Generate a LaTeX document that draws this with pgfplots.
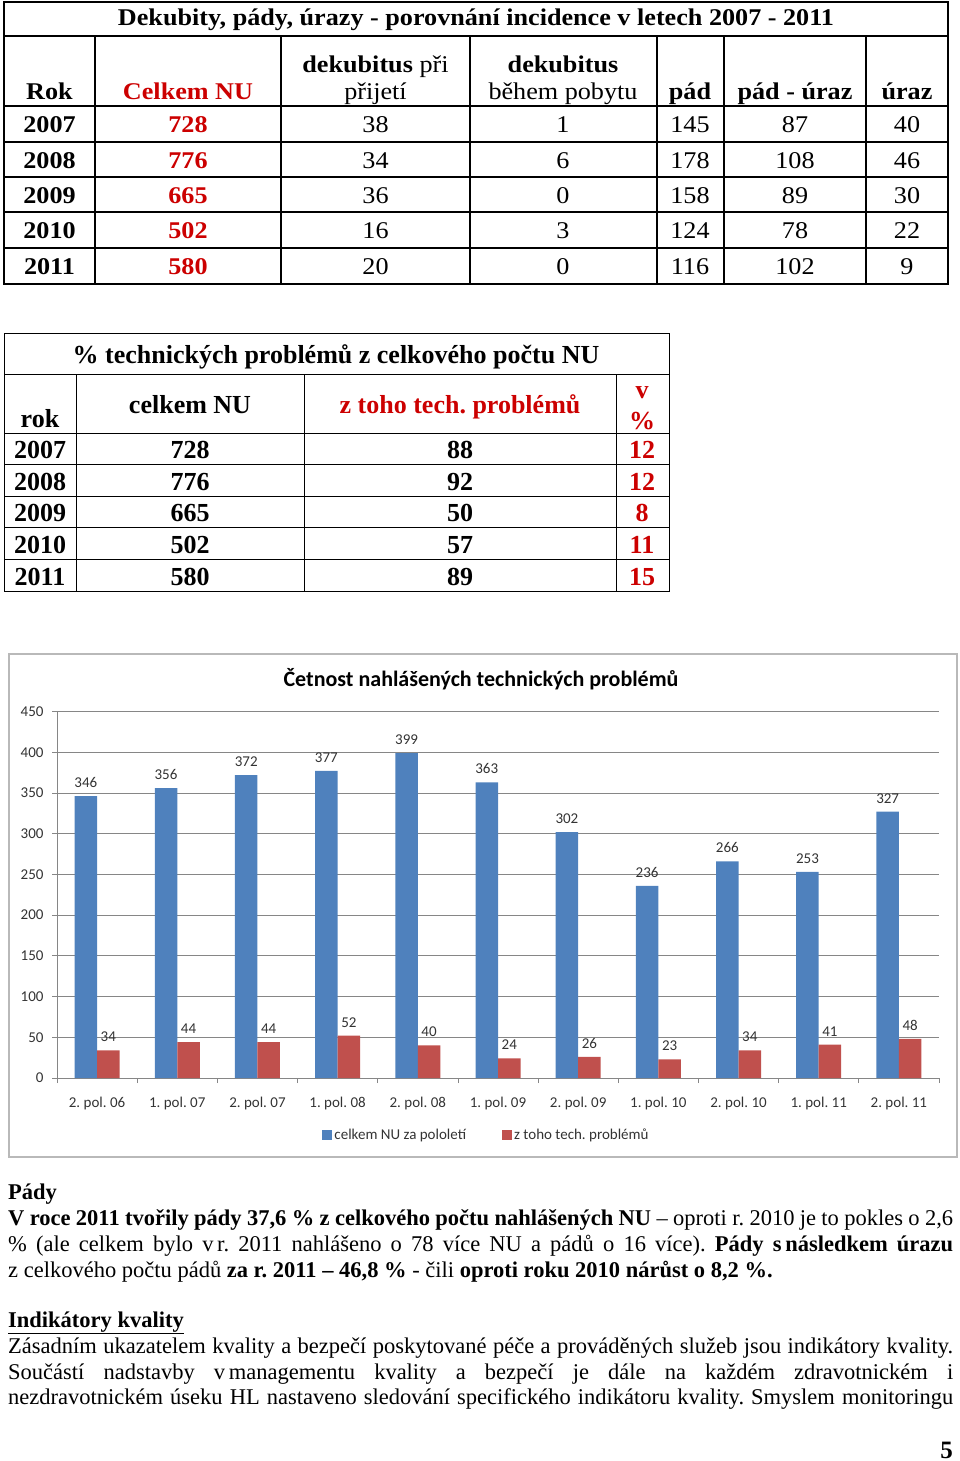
\documentclass[border=0pt]{standalone}
\usepackage{pgfplots}
\pgfplotsset{compat=1.18}
\usepackage{fontspec}
\setmainfont{Liberation Serif}
\newfontfamily\carl{Carlito}
\newfontfamily\wide[FakeStretch=1.09]{Liberation Serif}
\definecolor{barblue}{RGB}{79,129,189}
\definecolor{barred}{RGB}{192,80,77}
\definecolor{nured}{RGB}{204,0,0}
\definecolor{gridgray}{RGB}{134,134,134}
\newcommand\fs[1]{\fontsize{#1}{#1}\selectfont}
\frenchspacing

% semiannual counts: index, all reported events, technical problems
\pgfplotstableread{
idx celkem tech
0   346    34
1   356    44
2   372    44
3   377    52
4   399    40
5   363    24
6   302    26
7   236    23
8   266    34
9   253    41
10  327    48
}\pololeti

\begin{document}
\begin{tikzpicture}[x=1pt,y=1pt]
\path[use as bounding box] (0,0) rectangle (960,-1461);

% ---- table 1
\begin{scope}[y=-1pt]
\draw[line width=1.6pt] (4,2) rectangle (948,284);
\foreach \y in {36,106,142,177,212,248} \draw[line width=1.6pt] (4,\y) -- (948,\y);
\foreach \x in {95,281,470,657,724,866} \draw[line width=1.6pt] (\x,36) -- (\x,284);
\node[font=\wide\fs{24}\bfseries] at (476,20) {Dekubity, pády, úrazy - porovnání incidence v letech 2007 - 2011};
\begin{scope}[every node/.style={anchor=base, font=\wide\fs{24}}]
\node at (49.5,100) {\bfseries Rok};
\node[text=nured] at (188,100) {\bfseries Celkem NU};
\node at (375.5,73) {\bfseries dekubitus \mdseries při};
\node at (375.5,100) {přijetí};
\node at (563,73) {\bfseries dekubitus};
\node at (563,100) {během pobytu};
\node at (690,100) {\bfseries pád};
\node at (795,100) {\bfseries pád - úraz};
\node at (907,100) {\bfseries úraz};
\foreach \yb/\r/\c/\a/\b/\p/\pu/\u in {
  132/2007/728/38/1/145/87/40,
  168/2008/776/34/6/178/108/46,
  203/2009/665/36/0/158/89/30,
  238/2010/502/16/3/124/78/22,
  274/2011/580/20/0/116/102/9}{
  \node at (49.5,\yb) {\bfseries\r};
  \node[text=nured] at (188,\yb) {\bfseries\c};
  \node at (375.5,\yb) {\a};
  \node at (563,\yb) {\b};
  \node at (690,\yb) {\p};
  \node at (795,\yb) {\pu};
  \node at (907,\yb) {\u};
}
\end{scope}

% ---- table 2
\draw[line width=0.8pt] (4,333) rectangle (669,591);
\foreach \y in {374,433,464,496,527,559} \draw[line width=0.8pt] (4,\y) -- (669,\y);
\foreach \x in {76,304,616} \draw[line width=0.8pt] (\x,374) -- (\x,591);
\begin{scope}[every node/.style={anchor=base, font=\fs{26}\bfseries}]
\node at (336,363) {\% technických problémů z celkového počtu NU};
\node at (40,427) {rok};
\node at (190,413) {celkem NU};
\node[text=nured] at (460,413) {z toho tech. problémů};
\node[text=nured] at (642,398) {v};
\node[text=nured] at (642,429) {\%};
\foreach \yb/\r/\c/\t/\v in {
  458/2007/728/88/12,
  490/2008/776/92/12,
  521/2009/665/50/8,
  553/2010/502/57/11,
  585/2011/580/89/15}{
  \node at (40,\yb) {\r};
  \node at (190,\yb) {\c};
  \node at (460,\yb) {\t};
  \node[text=nured] at (642,\yb) {\v};
}
\end{scope}

% ---- chart frame and title
\draw[gray!55, line width=1.2pt] (9,654) rectangle (957,1157);
\node[font=\carl\fs{22}\bfseries] at (481,679) {Četnost nahlášených technických problémů};

% ---- text below
\begin{scope}[every node/.style={anchor=base west, inner sep=0pt, font=\fs{22.5}}]
\node at (8,1199) {\bfseries Pády};
\node at (8,1225) {\makebox[945pt][s]{\bfseries V roce 2011 tvořily pády 37,6 \% z celkového počtu nahlášených NU \mdseries – oproti r.~2010 je to pokles o 2,6}};
\node at (8,1251) {\makebox[945pt][s]{\% (ale celkem bylo v\,r. 2011 nahlášeno o 78 více NU a pádů o 16 více). \bfseries Pády s\,následkem úrazu}};
\node at (8,1277) {z~celkového počtu pádů \textbf{za r. 2011 – 46,8 \%} - čili \textbf{oproti roku 2010 nárůst o 8,2 \%.}};
\node at (8,1327) {\bfseries\underline{Indikátory kvality}};
\node at (8,1353) {\makebox[945pt][s]{Zásadním ukazatelem kvality a bezpečí poskytované péče a prováděných služeb jsou indikátory kvality.}};
\node at (8,1379) {\makebox[945pt][s]{Součástí nadstavby v\,managementu kvality a bezpečí je dále na každém zdravotnickém i}};
\node at (8,1404) {\makebox[945pt][s]{nezdravotnickém úseku HL nastaveno sledování specifického indikátoru kvality. Smyslem monitoringu}};
\end{scope}
\node[anchor=base east, inner sep=0pt, font=\fs{25}\bfseries] at (953,1458) {5};
\end{scope}

% ---- bar chart
\begin{axis}[
  at={(57pt,-1078pt)}, anchor=south west,
  scale only axis, width=882pt, height=366.5pt,
  xmin=-0.5, xmax=10.5, ymin=0, ymax=450,
  enlargelimits=false,
  ybar=0pt, bar width=22.5pt,
  axis x line*=bottom, axis y line*=left,
  axis line style={-, draw=gridgray, line width=0.8pt},
  ytick={0,50,...,450},
  ymajorgrids, grid style={draw=gridgray, line width=0.8pt},
  xtick={0,...,10},
  xticklabels={2. pol. 06,1. pol. 07,2. pol. 07,1. pol. 08,2. pol. 08,1. pol. 09,2. pol. 09,1. pol. 10,2. pol. 10,1. pol. 11,2. pol. 11},
  minor xtick={-0.5,0.5,...,10.5},
  major x tick style={draw=none},
  tick align=outside, major tick length=5pt, minor tick length=5pt,
  tick style={draw=gridgray, line width=0.8pt},
  /pgf/number format/assume math mode=true,
  ticklabel style={font=\carl\fs{15}, text=black!80},
  xticklabel style={yshift=-11pt},
  yticklabel style={xshift=-5pt},
  nodes near coords,
  every node near coord/.append style={font=\carl\fs{15}, text=black!80, yshift=5pt},
  legend style={at={(0.487,-0.155)}, anchor=center, draw=none, fill=none,
    legend columns=2, font=\carl\fs{15}, text=black!80,
    /tikz/every even column/.append style={column sep=34pt}},
  legend image code/.code={\fill[#1] (0pt,-5pt) rectangle (10pt,5pt);},
]
\addplot[fill=barblue, draw=none] table[x=idx, y=celkem] {\pololeti};
\addplot[fill=barred, draw=none] table[x=idx, y=tech] {\pololeti};
\legend{celkem NU za pololetí, z toho tech. problémů}
\end{axis}
\end{tikzpicture}
\end{document}
